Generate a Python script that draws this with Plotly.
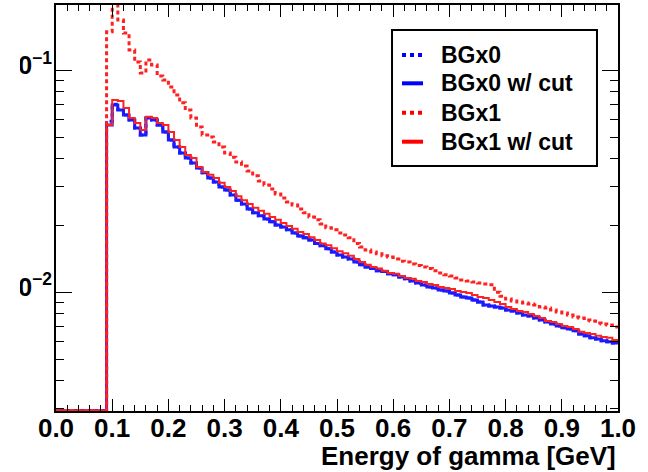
import plotly.graph_objects as go

# ---------------- data (histogram, 100 bins from 0 to 1 GeV) ----------------
bin_edges = [round(0.01 * i, 2) for i in range(101)]

floor_bins = [0.00293] * 9  # bins 0.00-0.09 sit at the bottom of the plot

bgx1 = floor_bins + [
    0.149, 0.215, 0.1685, 0.147, 0.1234, 0.109, 0.0972, 0.1113, 0.1057, 0.0943,
    0.0904, 0.0841, 0.0774, 0.0713, 0.0662, 0.0610, 0.0555, 0.0511, 0.0501, 0.0475,
    0.0451, 0.0424, 0.0406, 0.0386, 0.0370, 0.0352, 0.0335, 0.0317, 0.0304, 0.0292,
    0.0277, 0.0266, 0.0255, 0.0247, 0.0237, 0.0228, 0.0218, 0.0212, 0.0203, 0.0195,
    0.0191, 0.0185, 0.0181, 0.0176, 0.0166, 0.0160, 0.0155, 0.0152, 0.0149, 0.0146,
    0.0144, 0.0141, 0.0138, 0.0137, 0.0134, 0.0132, 0.0130, 0.0128, 0.0125, 0.0122,
    0.0120, 0.01185, 0.0116, 0.01136, 0.01125, 0.01113, 0.01101, 0.0109, 0.0108, 0.0100,
    0.0096, 0.00932, 0.00914, 0.00904, 0.00895, 0.00886, 0.00877, 0.00859, 0.00850, 0.00832,
    0.00815, 0.00807, 0.00790, 0.00774, 0.00766, 0.00750, 0.00742, 0.00727, 0.00720, 0.00712,
    0.00698,
]

bgx1_cut = floor_bins + [
    0.0567, 0.0735, 0.0727, 0.0676, 0.0610, 0.0579, 0.0538, 0.0617, 0.0610, 0.0579,
    0.0567, 0.0527, 0.0485, 0.0451, 0.0415, 0.0403, 0.0367, 0.0348, 0.0338, 0.0327,
    0.0311, 0.0298, 0.0286, 0.0271, 0.0260, 0.0250, 0.0240, 0.0233, 0.0226, 0.0218,
    0.0212, 0.0205, 0.0199, 0.0193, 0.0187, 0.0183, 0.0177, 0.0172, 0.0166, 0.0163,
    0.0158, 0.0153, 0.0150, 0.0146, 0.0141, 0.0137, 0.0133, 0.0130, 0.0128, 0.0125,
    0.0122, 0.0121, 0.01185, 0.0116, 0.0115, 0.01125, 0.01113, 0.0109, 0.01079, 0.01057,
    0.01045, 0.01034, 0.01013, 0.01003, 0.00993, 0.00972, 0.00952, 0.00943, 0.00923, 0.00904,
    0.00886, 0.00859, 0.00841, 0.00824, 0.00815, 0.00798, 0.00782, 0.00766, 0.00742, 0.00735,
    0.00720, 0.00705, 0.00698, 0.00683, 0.00663, 0.00656, 0.00649, 0.00636, 0.00629, 0.00623,
    0.00610,
]

bgx0_cut = floor_bins + [
    0.0567, 0.0698, 0.0662, 0.0629, 0.0597, 0.0550, 0.0511, 0.0610, 0.0597, 0.0567,
    0.0527, 0.0485, 0.0451, 0.0424, 0.0403, 0.0382, 0.0363, 0.0345, 0.0327, 0.0314,
    0.0298, 0.0289, 0.0274, 0.0260, 0.0250, 0.0237, 0.0228, 0.0221, 0.0214, 0.0208,
    0.0201, 0.0197, 0.0191, 0.0185, 0.0179, 0.0176, 0.0172, 0.0166, 0.0162, 0.0157,
    0.0152, 0.0147, 0.0144, 0.0141, 0.0137, 0.0133, 0.0130, 0.0128, 0.0125, 0.0124,
    0.0121, 0.0120, 0.0117, 0.0115, 0.01125, 0.01101, 0.01079, 0.01057, 0.01045, 0.01024,
    0.01013, 0.00993, 0.00972, 0.00952, 0.00943, 0.00923, 0.00904, 0.00877, 0.00868, 0.00859,
    0.00850, 0.00832, 0.00824, 0.00807, 0.00790, 0.00782, 0.00766, 0.00750, 0.00735, 0.00720,
    0.00705, 0.00691, 0.00683, 0.00670, 0.00649, 0.00636, 0.00623, 0.00616, 0.00604, 0.00598,
    0.00591,
]

bgx0 = floor_bins + [
    0.0590, 0.0702, 0.0665, 0.0629, 0.0597, 0.0550, 0.0511, 0.0610, 0.0597, 0.0567,
    0.0527, 0.0485, 0.0451, 0.0424, 0.0403, 0.0382, 0.0363, 0.0345, 0.0327, 0.0314,
    0.0298, 0.0289, 0.0274, 0.0260, 0.0250, 0.0237, 0.0228, 0.0221, 0.0214, 0.0208,
    0.0201, 0.0197, 0.0191, 0.0185, 0.0179, 0.0176, 0.0172, 0.0166, 0.0162, 0.0157,
    0.0152, 0.0147, 0.0144, 0.0141, 0.0137, 0.0133, 0.0130, 0.0128, 0.0125, 0.0124,
    0.0121, 0.0120, 0.0117, 0.0115, 0.01125, 0.01101, 0.01079, 0.01057, 0.01045, 0.01024,
    0.01013, 0.00993, 0.00972, 0.00952, 0.00943, 0.00923, 0.00904, 0.00877, 0.00868, 0.00859,
    0.00850, 0.00832, 0.00824, 0.00807, 0.00790, 0.00782, 0.00766, 0.00750, 0.00735, 0.00720,
    0.00705, 0.00691, 0.00683, 0.00670, 0.00649, 0.00636, 0.00623, 0.00616, 0.00604, 0.00598,
    0.00591,
]

series_names = ["BGx0", "BGx0 w/ cut", "BGx1", "BGx1 w/ cut"]
y_tick_vals = [0.01, 0.1]
y_tick_text = ["10<sup>−2</sup>", "10<sup>−1</sup>"]
y_minor_vals = [0.003, 0.004, 0.005, 0.006, 0.007, 0.008, 0.009,
                0.02, 0.03, 0.04, 0.05, 0.06, 0.07, 0.08, 0.09]
x_title = "Energy of gamma [GeV]"

# ---------------- figure ----------------
FONT = "Liberation Sans, Arial, Helvetica, sans-serif"
BLUE = "#1a1aff"
RED = "#ff2020"

styles = [
    dict(color=BLUE, width=3, dash="4px,3px"),
    dict(color=BLUE, width=3, dash="solid"),
    dict(color=RED, width=3, dash="4px,3px"),
    dict(color=RED, width=2, dash="solid"),
]
legend_styles = [
    dict(color="#0000ff", width=4, dash="4px,4px"),
    dict(color="#0000ff", width=4, dash="solid"),
    dict(color="#ff0000", width=4, dash="4px,4px"),
    dict(color="#ff0000", width=4, dash="solid"),
]
data = [bgx0, bgx0_cut, bgx1, bgx1_cut]

fig = go.Figure()
for i, (name, vals) in enumerate(zip(series_names, data)):
    fig.add_trace(go.Scatter(
        x=bin_edges,
        y=vals + [vals[-1]],
        mode="lines",
        line=dict(shape="hv", **styles[i]),
        name=name,
        showlegend=False,
        cliponaxis=True,
    ))

# ---- legend box drawn in paper coordinates (ROOT TLegend look) ----
leg_x0, leg_x1 = 0.5979, 0.9626
leg_y0, leg_y1 = 0.6034, 0.9384
leg_line_x0, leg_line_x1 = 0.6157, 0.6530
leg_text_x = 0.6815
leg_rows_y = [0.8768, 0.8071, 0.7347, 0.6633]

shapes = [dict(
    type="rect", xref="paper", yref="paper", x0=-0.2, x1=-0.0641,
    y0=0.0, y1=1.02, fillcolor="white", line=dict(width=0), layer="above",
), dict(
    type="rect", xref="paper", yref="paper", x0=leg_x0, x1=leg_x1,
    y0=leg_y0, y1=leg_y1, fillcolor="white",
    line=dict(color="black", width=2), layer="above",
)]
annotations = [dict(
    text=x_title, xref="paper", yref="paper", x=1.0, y=-0.111,
    xanchor="right", yanchor="middle", showarrow=False,
    font=dict(family=FONT, size=26, weight="bold", color="black"),
)]
for name, ls, ry in zip(series_names, legend_styles, leg_rows_y):
    shapes.append(dict(
        type="line", xref="paper", yref="paper", x0=leg_line_x0, x1=leg_line_x1,
        y0=ry, y1=ry, line=ls, layer="above",
    ))
    annotations.append(dict(
        text=name, xref="paper", yref="paper", x=leg_text_x, y=ry,
        xanchor="left", yanchor="middle", showarrow=False,
        font=dict(family=FONT, size=23, weight="bold", color="black"),
    ))

fig.update_layout(
    width=648, height=472,
    margin=dict(l=56, r=30, t=5, b=61),
    paper_bgcolor="white", plot_bgcolor="white",
    font=dict(family=FONT, color="black"),
    showlegend=False,
    xaxis=dict(
        range=[0, 1], dtick=0.1, tick0=0, tickformat=".1f",
        ticks="inside", ticklen=12, tickwidth=1, tickcolor="black",
        minor=dict(dtick=0.02, tick0=0, ticks="inside", ticklen=6, tickcolor="black"),
        showline=True, linecolor="black", linewidth=2, mirror="allticks",
        showgrid=False, zeroline=False,
        tickfont=dict(family=FONT, size=26, weight="bold"),
        ticklabelstandoff=-7,
        automargin=False,
    ),
    yaxis=dict(
        type="log", range=[-2.535, -0.706],
        tickmode="array", tickvals=y_tick_vals, ticktext=y_tick_text,
        ticks="inside", ticklen=16, tickwidth=1, tickcolor="black",
        minor=dict(tickmode="array", tickvals=y_minor_vals, ticks="inside",
                   ticklen=8, tickcolor="black", showgrid=False),
        showline=True, linecolor="black", linewidth=2, mirror="allticks",
        showgrid=False, zeroline=False,
        tickfont=dict(family=FONT, size=25, weight="bold"),
        ticklabelstandoff=-3,
        ticklabelshift=-5,
        automargin=False,
    ),
    annotations=annotations,
    shapes=shapes,
)

fig.write_html(
    "out.html",
    config={"displayModeBar": False},
    post_script="document.body.style.margin='0px';document.body.style.overflow='hidden';",
)
